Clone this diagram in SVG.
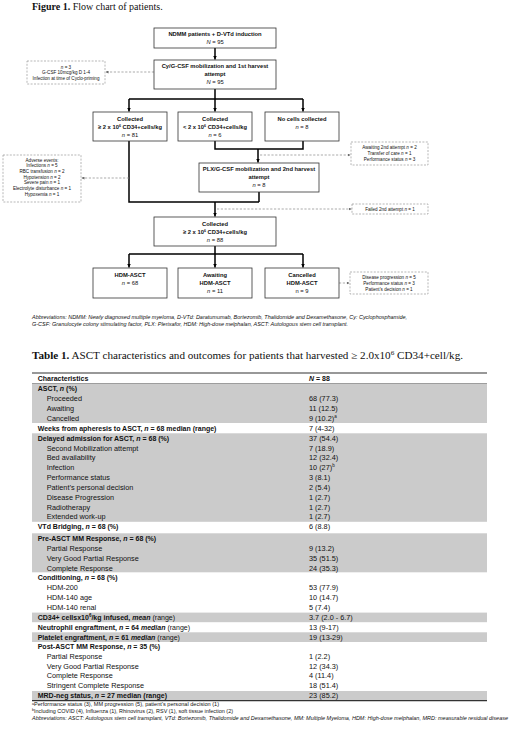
<svg xmlns="http://www.w3.org/2000/svg" width="520" height="730" viewBox="0 0 520 730">
<style>
text{font-family:"Liberation Sans",Arial,sans-serif;fill:#111}
.ti{font-family:"Liberation Serif","Times New Roman",serif;font-size:10px}
.bx{fill:#fff;stroke:#333;stroke-width:.8}
.db{fill:#fff;stroke:#888;stroke-width:.6;stroke-dasharray:2 1.4}
.c{fill:none;stroke:#000;stroke-width:1.5}
.dc{fill:none;stroke:#888;stroke-width:.7;stroke-dasharray:2.2 1.6}
.t{font-size:5.8px;font-weight:bold;text-anchor:middle}
.n{font-size:5.8px;text-anchor:middle}
.s{font-size:4.6px;text-anchor:middle}
.ab{font-size:5.3px;font-style:italic}
.r{font-size:7.3px}
.rb{font-size:7px;font-weight:bold}
.g{fill:#cbcbcb}
.fn{font-size:5.1px}
i,.it{font-style:italic}
</style>
<defs>
<marker id="ah" viewBox="0 0 10 10" refX="10" refY="5" markerWidth="4" markerHeight="4.4" markerUnits="userSpaceOnUse" orient="auto"><path d="M0,0 L10,5 L0,10 z" fill="#000"/></marker>
<marker id="ag" viewBox="0 0 10 10" refX="10" refY="5" markerWidth="3" markerHeight="3" markerUnits="userSpaceOnUse" orient="auto"><path d="M0,0 L10,5 L0,10 z" fill="#666"/></marker>
</defs>

<text class="ti" x="32" y="10"><tspan font-weight="bold">Figure 1.</tspan> Flow chart of patients.</text>

<g id="connectors">
<path class="c" d="M215,48 V59.5" marker-end="url(#ah)"/>
<path class="c" d="M215,89 V99 M129,99 H303"/>
<path class="c" d="M129,99 V111.5" marker-end="url(#ah)"/>
<path class="c" d="M215,99 V111.5" marker-end="url(#ah)"/>
<path class="c" d="M303,99 V111.5" marker-end="url(#ah)"/>
<path class="c" d="M215,141 V149 H303 V141"/>
<path class="c" d="M258,149 V162.5" marker-end="url(#ah)"/>
<path class="c" d="M129,141 V202 H259 M259,192 V202"/>
<path class="c" d="M215,202 V216.5" marker-end="url(#ah)"/>
<path class="c" d="M215,246 V254 M129,254 H303"/>
<path class="c" d="M129,254 V267.5" marker-end="url(#ah)"/>
<path class="c" d="M215,254 V267.5" marker-end="url(#ah)"/>
<path class="c" d="M303,254 V267.5" marker-end="url(#ah)"/>
<path class="dc" d="M154,72 H105.5" marker-end="url(#ag)"/>
<path class="dc" d="M129,178 H81.5" marker-end="url(#ag)"/>
<path class="dc" d="M260,155 H350.5" marker-end="url(#ag)"/>
<path class="dc" d="M217,209 H351.5" marker-end="url(#ag)"/>
<path class="dc" d="M339,283 H349.5" marker-end="url(#ag)"/>
</g>

<g id="n-start">
<rect class="bx" x="154" y="28" width="122" height="20"/>
<text class="t" x="215" y="36">NDMM patients + D-VTd induction</text>
<text class="n" x="215" y="44"><tspan class="it">N</tspan> = 95</text>
</g>
<g id="n-cy">
<rect class="bx" x="154" y="60" width="122" height="29"/>
<text class="t" x="215" y="68">Cy/G-CSF mobilization and 1st harvest</text>
<text class="t" x="215" y="76">attempt</text>
<text class="n" x="215" y="84"><tspan class="it">N</tspan> = 95</text>
</g>
<g id="n-side1">
<rect class="db" x="27" y="61" width="78" height="23"/>
<text class="s" x="66" y="68.5"><tspan class="it">n</tspan> = 3</text>
<text class="s" x="66" y="74">G-CSF 10mcg/kg D 1-4</text>
<text class="s" x="66" y="79.5">Infection at time of Cyclo-priming</text>
</g>
<g id="n-a">
<rect class="bx" x="93" y="112" width="74" height="29"/>
<text class="t" x="130" y="121">Collected</text>
<text class="t" x="130" y="129">≥ 2 x 10<tspan font-size="3.6px" dy="-2">6</tspan><tspan dy="2"> CD34+cells/kg</tspan></text>
<text class="n" x="130" y="137"><tspan class="it">n</tspan> = 81</text>
</g>
<g id="n-b">
<rect class="bx" x="178" y="112" width="74" height="29"/>
<text class="t" x="215" y="121">Collected</text>
<text class="t" x="215" y="129">&lt; 2 x 10<tspan font-size="3.6px" dy="-2">6</tspan><tspan dy="2"> CD34+cells/kg</tspan></text>
<text class="n" x="215" y="137"><tspan class="it">n</tspan> = 6</text>
</g>
<g id="n-c">
<rect class="bx" x="265" y="112" width="74" height="29"/>
<text class="t" x="302" y="121">No cells collected</text>
<text class="n" x="302" y="129"><tspan class="it">n</tspan> = 8</text>
</g>
<g id="n-side2">
<rect class="db" x="351" y="142" width="77" height="23"/>
<text class="s" x="389.5" y="148.5">Awaiting 2nd attempt <tspan class="it">n</tspan> = 2</text>
<text class="s" x="389.5" y="154.5">Transfer of care <tspan class="it">n</tspan> = 1</text>
<text class="s" x="389.5" y="160.5">Performance status <tspan class="it">n</tspan> = 3</text>
</g>
<g id="n-ae">
<rect class="db" x="3" y="155" width="78" height="47"/>
<text class="s" x="42" y="161.5">Adverse events:</text>
<text class="s" x="42" y="167.2">Infections <tspan class="it">n</tspan> = 5</text>
<text class="s" x="42" y="172.9">RBC transfusion <tspan class="it">n</tspan> = 2</text>
<text class="s" x="42" y="178.6">Hypotension <tspan class="it">n</tspan> = 2</text>
<text class="s" x="42" y="184.4">Severe pain <tspan class="it">n</tspan> = 1</text>
<text class="s" x="42" y="190.2">Electrolyte disturbance <tspan class="it">n</tspan> = 1</text>
<text class="s" x="42" y="196">Hypoxemia <tspan class="it">n</tspan> = 1</text>
</g>
<g id="n-plx">
<rect class="bx" x="199" y="163" width="120" height="29"/>
<text class="t" x="259" y="171">PLX/G-CSF mobilization and 2nd harvest</text>
<text class="t" x="259" y="179">attempt</text>
<text class="n" x="259" y="187"><tspan class="it">n</tspan> = 8</text>
</g>
<g id="n-side3">
<rect class="db" x="352" y="204" width="76" height="10"/>
<text class="s" x="390" y="210.6">Failed 2nd attempt <tspan class="it">n</tspan> = 1</text>
</g>
<g id="n-coll">
<rect class="bx" x="154" y="217" width="122" height="29"/>
<text class="t" x="215" y="226">Collected</text>
<text class="t" x="215" y="234">≥ 2 x 10<tspan font-size="3.6px" dy="-2">6</tspan><tspan dy="2"> CD34+cells/kg</tspan></text>
<text class="n" x="215" y="242"><tspan class="it">n</tspan> = 88</text>
</g>
<g id="n-hdm">
<rect class="bx" x="93" y="268" width="74" height="30"/>
<text class="t" x="130" y="277">HDM-ASCT</text>
<text class="n" x="130" y="285"><tspan class="it">n</tspan> = 68</text>
</g>
<g id="n-await">
<rect class="bx" x="178" y="268" width="74" height="30"/>
<text class="t" x="215" y="277">Awaiting</text>
<text class="t" x="215" y="285">HDM-ASCT</text>
<text class="n" x="215" y="293"><tspan class="it">n</tspan> = 11</text>
</g>
<g id="n-canc">
<rect class="bx" x="265" y="268" width="74" height="30"/>
<text class="t" x="302" y="277">Cancelled</text>
<text class="t" x="302" y="285">HDM-ASCT</text>
<text class="n" x="302" y="293">n = 9</text>
</g>
<g id="n-side4">
<rect class="db" x="350" y="272" width="78" height="22"/>
<text class="s" x="389" y="278.5">Disease progression <tspan class="it">n</tspan> = 5</text>
<text class="s" x="389" y="284.5">Performance status <tspan class="it">n</tspan> = 3</text>
<text class="s" x="389" y="290.5">Patient’s decision <tspan class="it">n</tspan> = 1</text>
</g>

<text class="ab" x="32" y="318.5" textLength="375" lengthAdjust="spacingAndGlyphs">Abbreviations: NDMM: Newly diagnosed multiple myeloma, D-VTd: Daratumumab, Bortezomib, Thalidomide and Dexamethasone, Cy: Cyclophosphamide,</text>
<text class="ab" x="32" y="325.5" textLength="316" lengthAdjust="spacingAndGlyphs">G-CSF: Granulocyte colony stimulating factor, PLX: Plerixafor, HDM: High-dose melphalan, ASCT: Autologous stem cell transplant.</text>

<text class="ti" x="32" y="358.5" font-size="10.5px" textLength="431" lengthAdjust="spacingAndGlyphs"><tspan font-weight="bold">Table 1.</tspan> ASCT characteristics and outcomes for patients that harvested ≥ 2.0x10<tspan font-size="6.5px" dy="-4">6</tspan><tspan dy="4"> CD34+cell/kg.</tspan></text>

<g id="table">
<rect class="g" x="32" y="383.5" width="455" height="39.5"/>
<rect class="g" x="32" y="433.3" width="455" height="88.5"/>
<rect class="g" x="32" y="533.3" width="455" height="39"/>
<rect class="g" x="32" y="612.6" width="455" height="9.6"/>
<rect class="g" x="32" y="632.3" width="455" height="9.7"/>
<rect class="g" x="32" y="691" width="455" height="9.5"/>
<path d="M32,373 H487" stroke="#333" stroke-width="1.2"/>
<path d="M32,383.5 H487" stroke="#555" stroke-width="0.5"/>
<path d="M32,700.7 H487" stroke="#333" stroke-width="1.2"/>

<text class="rb" x="37.7" y="381">Characteristics</text><text class="rb" x="309" y="381"><tspan class="it">N</tspan> = 88</text>
<text class="rb" x="37.7" y="391">ASCT, <tspan class="it">n</tspan> (%)</text>
<text class="r" x="46.7" y="401">Proceeded</text><text class="r" x="309" y="401">68 (77.3)</text>
<text class="r" x="46.7" y="411">Awaiting</text><text class="r" x="309" y="411">11 (12.5)</text>
<text class="r" x="46.7" y="421">Cancelled</text><text class="r" x="309" y="421">9 (10.2)<tspan font-size="4.5px" dy="-3">a</tspan></text>
<text class="rb" x="37.7" y="431">Weeks from apheresis to ASCT, <tspan class="it">n</tspan> = 68 median (range)</text><text class="r" x="309" y="431">7 (4-32)</text>
<text class="rb" x="37.7" y="441">Delayed admission for ASCT, <tspan class="it">n</tspan> = 68 (%)</text><text class="r" x="309" y="441">37 (54.4)</text>
<text class="r" x="46.7" y="450.5">Second Mobilization attempt</text><text class="r" x="309" y="450.5">7 (18.9)</text>
<text class="r" x="46.7" y="460.4">Bed availability</text><text class="r" x="309" y="460.4">12 (32.4)</text>
<text class="r" x="46.7" y="470.3">Infection</text><text class="r" x="309" y="470.3">10 (27)<tspan font-size="4.5px" dy="-3">b</tspan></text>
<text class="r" x="46.7" y="480.2">Performance status</text><text class="r" x="309" y="480.2">3 (8.1)</text>
<text class="r" x="46.7" y="490">Patient’s personal decision</text><text class="r" x="309" y="490">2 (5.4)</text>
<text class="r" x="46.7" y="499.8">Disease Progression</text><text class="r" x="309" y="499.8">1 (2.7)</text>
<text class="r" x="46.7" y="509.6">Radiotherapy</text><text class="r" x="309" y="509.6">1 (2.7)</text>
<text class="r" x="46.7" y="519.4">Extended work-up</text><text class="r" x="309" y="519.4">1 (2.7)</text>
<text class="rb" x="37.7" y="528.8">VTd Bridging, <tspan class="it">n</tspan> = 68 (%)</text><text class="r" x="309" y="528.8">6 (8.8)</text>
<text class="rb" x="37.7" y="541">Pre-ASCT MM Response, <tspan class="it">n</tspan> = 68 (%)</text>
<text class="r" x="46.7" y="550.9">Partial Response</text><text class="r" x="309" y="550.9">9 (13.2)</text>
<text class="r" x="46.7" y="560.8">Very Good Partial Response</text><text class="r" x="309" y="560.8">35 (51.5)</text>
<text class="r" x="46.7" y="570.6">Complete Response</text><text class="r" x="309" y="570.6">24 (35.3)</text>
<text class="rb" x="37.7" y="580.3">Conditioning, <tspan class="it">n</tspan> = 68 (%)</text>
<text class="r" x="46.7" y="590">HDM-200</text><text class="r" x="309" y="590">53 (77.9)</text>
<text class="r" x="46.7" y="600">HDM-140 age</text><text class="r" x="309" y="600">10 (14.7)</text>
<text class="r" x="46.7" y="610.3">HDM-140 renal</text><text class="r" x="309" y="610.3">5 (7.4)</text>
<text class="rb" x="37.7" y="620">CD34+ cellsx10<tspan font-size="4.5px" dy="-3">6</tspan><tspan dy="3">/kg infused, </tspan><tspan class="it">mean</tspan><tspan font-weight="normal"> (range)</tspan></text><text class="r" x="309" y="620">3.7 (2.0 - 6.7)</text>
<text class="rb" x="37.7" y="630.3">Neutrophil engraftment, <tspan class="it">n</tspan> = 64 <tspan class="it">median</tspan><tspan font-weight="normal"> (range)</tspan></text><text class="r" x="309" y="630.3">13 (9-17)</text>
<text class="rb" x="37.7" y="640">Platelet engraftment, <tspan class="it">n</tspan> = 61 <tspan class="it">median</tspan><tspan font-weight="normal"> (range)</tspan></text><text class="r" x="309" y="640">19 (13-29)</text>
<text class="rb" x="37.7" y="649.4">Post-ASCT MM Response, <tspan class="it">n</tspan> = 35 (%)</text>
<text class="r" x="46.7" y="658.8">Partial Response</text><text class="r" x="309" y="658.8">1 (2.2)</text>
<text class="r" x="46.7" y="668.6">Very Good Partial Response</text><text class="r" x="309" y="668.6">12 (34.3)</text>
<text class="r" x="46.7" y="678.2">Complete Response</text><text class="r" x="309" y="678.2">4 (11.4)</text>
<text class="r" x="46.7" y="688.2">Stringent Complete Response</text><text class="r" x="309" y="688.2">18 (51.4)</text>
<text class="rb" x="37.7" y="698.3">MRD-neg status, <tspan class="it">n</tspan> = 27 median (range)</text><text class="r" x="309" y="698.3">23 (85.2)</text>

<text class="fn" x="32" y="706.3" textLength="187" lengthAdjust="spacingAndGlyphs"><tspan font-size="3.4px" dy="-1.6">a</tspan><tspan dy="1.6">Performance status (3), MM progression (5), patient’s personal decision (1)</tspan></text>
<text class="fn" x="32" y="713" textLength="201" lengthAdjust="spacingAndGlyphs"><tspan font-size="3.4px" dy="-1.6">b</tspan><tspan dy="1.6">Including COVID (4), Influenza (1), Rhinovirus (2), RSV (1), soft tissue infection (2)</tspan></text>
<text class="fn" x="32" y="719.7" font-style="italic" textLength="476" lengthAdjust="spacingAndGlyphs">Abbreviations: ASCT: Autologous stem cell transplant, VTd: Bortezomib, Thalidomide and Dexamethasone, MM: Multiple Myeloma, HDM: High-dose melphalan, MRD: measurable residual disease</text>
</g>
</svg>
